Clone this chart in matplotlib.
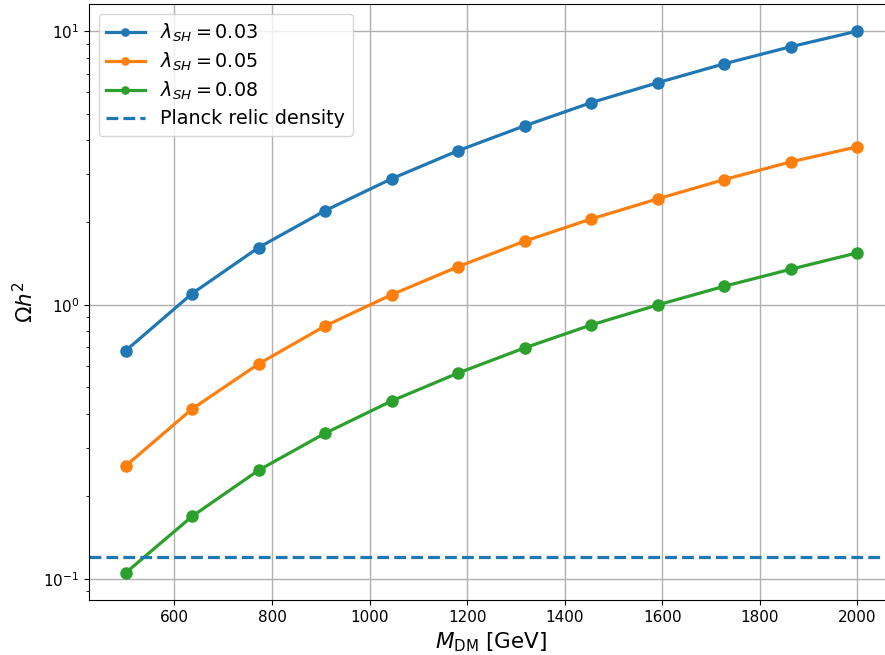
import matplotlib
matplotlib.use("Agg")
import matplotlib.pyplot as plt

# 暗物质质量 [GeV]
m_dm = [500, 636.4, 772.7, 909.1, 1045.5, 1181.8, 1318.2, 1454.5, 1590.9, 1727.3, 1863.6, 2000]

# 各耦合下的遗迹丰度
omega_003 = [0.68, 1.10, 1.62, 2.21, 2.89, 3.66, 4.51, 5.48, 6.48, 7.60, 8.77, 10.0]
omega_005 = [0.258, 0.417, 0.609, 0.838, 1.09, 1.38, 1.71, 2.06, 2.44, 2.87, 3.33, 3.78]
omega_008 = [0.105, 0.169, 0.249, 0.340, 0.446, 0.564, 0.697, 0.845, 1.00, 1.17, 1.35, 1.55]
labels = [r"$\lambda_{SH} = 0.03$", r"$\lambda_{SH} = 0.05$", r"$\lambda_{SH} = 0.08$"]

planck = 0.12

fig = plt.figure(figsize=(8.85, 6.55), dpi=100)
ax = fig.add_axes([89 / 885, 55 / 655, 805 / 885, 596 / 655])

for vals, lab in zip([omega_003, omega_005, omega_008], labels):
    ax.plot(m_dm, vals, "o-", lw=2.3, ms=8, label=lab)
ax.axhline(planck, ls="--", lw=2.3, color="C0", label="Planck relic density")

ax.set_yscale("log")
ax.set_xlabel(r"$M_{\rm DM}$ [GeV]", fontsize=15.5)
ax.set_ylabel(r"$\Omega h^2$", fontsize=15.5)
ax.tick_params(labelsize=11)
ax.grid(True, which="major", color="#b0b0b0", lw=1)
ax.legend(loc="upper left", fontsize=13.8, markerscale=0.65, labelspacing=0.37)

fig.savefig("out.png", dpi=100)
